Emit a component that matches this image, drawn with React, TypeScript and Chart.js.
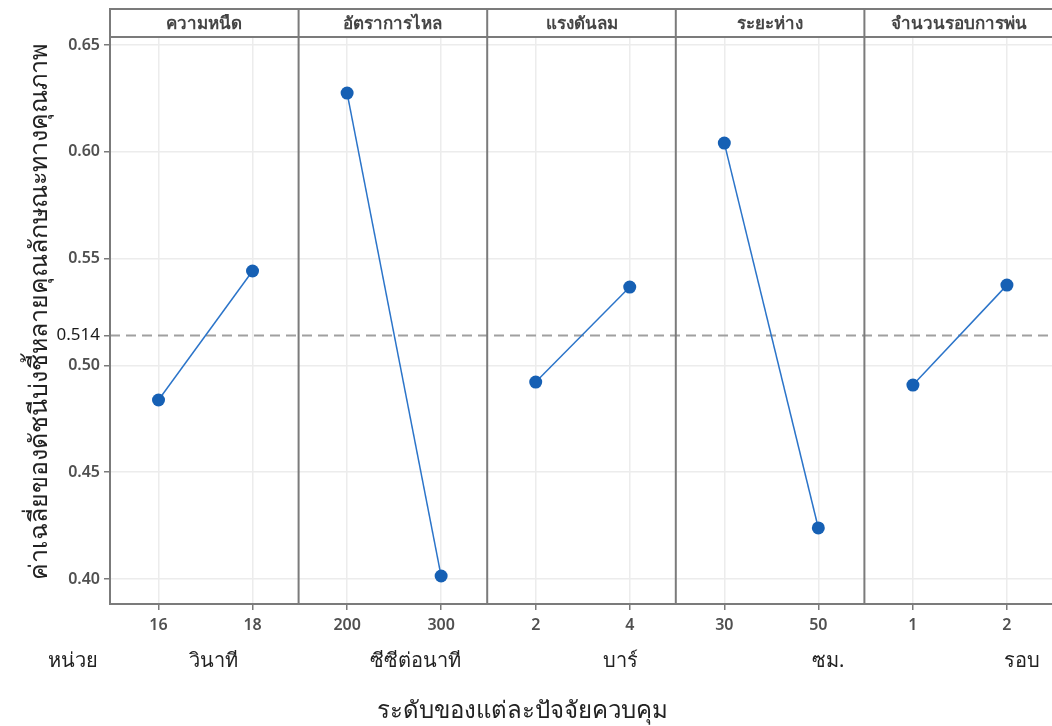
import React, { useEffect, useRef } from 'react';
import { Chart, registerables } from 'chart.js';
Chart.register(...registerables);

// ---- data ----
const factors = ['ความหนืด', 'อัตราการไหล', 'แรงดันลม', 'ระยะห่าง', 'จำนวนรอบการพ่น'];
const levelLabels = [['16', '18'], ['200', '300'], ['2', '4'], ['30', '50'], ['1', '2']];
const units = ['วินาที', 'ซีซีต่อนาที', 'บาร์', 'ซม.', 'รอบ'];
const unitHeader = 'หน่วย';
const lowMeans = [0.4838, 0.6275, 0.4922, 0.6041, 0.4908];
const highMeans = [0.5442, 0.4014, 0.5367, 0.4239, 0.5376];
const grandMean = 0.514;
const yTickValues = [0.4, 0.45, 0.5, 0.55, 0.6, 0.65];
const yTitle = 'ค่าเฉลี่ยของดัชนีบ่งชี้หลายคุณลักษณะทางคุณภาพ';
const xTitle = 'ระดับของแต่ละปัจจัยควบคุม';

// ---- layout helpers (panel geometry in x-scale units) ----
const PANEL_SPAN = 2.006;
const PANEL_OFFSET = 0.516;
const FONT = '"Noto Sans", "Open Sans", sans-serif';
const FRAME = '#7b7b7b';

const levelPos = (panel: number, level: number) => panel * PANEL_SPAN + level;
const isMean = (c: any) => !!(c && c.tick && Math.abs(c.tick.value - grandMean) < 1e-9);

export default function App() {
  const ref = useRef<HTMLCanvasElement>(null);

  useEffect(() => {
    if (!ref.current) return;
    const n = factors.length;
    const datasets = factors.map((f, i) => ({
      label: f,
      data: [
        { x: levelPos(i, 0), y: lowMeans[i] },
        { x: levelPos(i, 1), y: highMeans[i] },
      ],
      borderColor: '#2b74c9',
      backgroundColor: '#1660b4',
      borderWidth: 1.5,
      pointRadius: 6.5,
      pointHoverRadius: 6.5,
      pointBorderWidth: 0,
      tension: 0,
    }));

    const xTickPos: number[] = [];
    const xTickLab: Record<string, string> = {};
    factors.forEach((_, i) => {
      [0, 1].forEach((j) => {
        const p = levelPos(i, j);
        xTickPos.push(p);
        xTickLab[p.toFixed(4)] = levelLabels[i][j];
      });
    });

    const decor = {
      id: 'decor',
      beforeDatasetsDraw(chart: any) {
        const { ctx, chartArea, scales } = chart;
        const ys = scales.y;
        ctx.save();
        const ym = ys.getPixelForValue(grandMean);
        ctx.strokeStyle = '#a0a0a0';
        ctx.lineWidth = 2;
        ctx.setLineDash([10, 6]);
        ctx.beginPath();
        ctx.moveTo(chartArea.left, ym);
        ctx.lineTo(chartArea.right, ym);
        ctx.stroke();
        ctx.setLineDash([]);
        ctx.restore();
      },
      afterDraw(chart: any) {
        const { ctx, chartArea, scales } = chart;
        const xs = scales.x;
        ctx.save();
        const top = 9;
        const stripBottom = chartArea.top - 1;
        ctx.strokeStyle = FRAME;
        ctx.lineWidth = 2;
        ctx.beginPath();
        ctx.moveTo(chartArea.left, top);
        ctx.lineTo(chartArea.right, top);
        ctx.moveTo(chartArea.left, stripBottom);
        ctx.lineTo(chartArea.right, stripBottom);
        ctx.stroke();
        for (let i = 0; i <= n; i++) {
          const px = xs.getPixelForValue(-PANEL_OFFSET + i * PANEL_SPAN);
          ctx.beginPath();
          ctx.moveTo(px, top - 1);
          ctx.lineTo(px, chartArea.bottom);
          ctx.stroke();
        }
        ctx.fillStyle = '#454545';
        ctx.font = `bold 17px ${FONT}`;
        ctx.textAlign = 'center';
        ctx.textBaseline = 'middle';
        for (let i = 0; i < n; i++) {
          const l = xs.getPixelForValue(-PANEL_OFFSET + i * PANEL_SPAN);
          const r = xs.getPixelForValue(-PANEL_OFFSET + (i + 1) * PANEL_SPAN);
          ctx.fillText(factors[i], (l + r) / 2, (top + stripBottom) / 2 + 1);
        }
        ctx.fillStyle = '#222';
        ctx.font = `20px ${FONT}`;
        ctx.fillText(unitHeader, 73, 661);
        const unitShift = [9, 23, 39, 58, 63];
        for (let i = 0; i < n; i++) {
          const l = xs.getPixelForValue(-PANEL_OFFSET + i * PANEL_SPAN);
          const r = xs.getPixelForValue(-PANEL_OFFSET + (i + 1) * PANEL_SPAN);
          ctx.fillText(units[i], (l + r) / 2 + unitShift[i], 661);
        }
        ctx.font = `24px ${FONT}`;
        ctx.fillText(xTitle, 522, 711);
        ctx.translate(40, 312);
        ctx.rotate(-Math.PI / 2);
        ctx.font = `25px ${FONT}`;
        ctx.fillText(yTitle, 0, 0);
        ctx.restore();
      },
    };

    const chart = new Chart(ref.current, {
      type: 'line',
      data: { datasets },
      options: {
        animation: false,
        responsive: false,
        maintainAspectRatio: false,
        layout: { autoPadding: false, padding: { top: 38, left: 0, right: 1, bottom: 0 } },
        plugins: { legend: { display: false }, tooltip: { enabled: false } },
        scales: {
          x: {
            type: 'linear',
            min: -PANEL_OFFSET,
            max: -PANEL_OFFSET + factors.length * PANEL_SPAN,
            afterFit: (s: any) => { s.height = 122; },
            afterBuildTicks: (s: any) => { s.ticks = xTickPos.map((v) => ({ value: v })); },
            ticks: {
              callback: (v: any) => xTickLab[Number(v).toFixed(4)] ?? '',
              color: '#505050',
              font: { family: FONT, size: 16, weight: '600' },
              padding: 6,
              maxRotation: 0,
              autoSkip: false,
            },
            grid: { color: '#ececec', lineWidth: 1.5, tickColor: FRAME, tickLength: 6, tickWidth: 1.5 },
            border: { color: FRAME, width: 2 },
          },
          y: {
            min: 0.3883,
            max: 0.6533,
            afterFit: (s: any) => { s.width = 110; },
            afterBuildTicks: (s: any) => {
              s.ticks = [...yTickValues, grandMean].sort((a, b) => a - b).map((v) => ({ value: v }));
            },
            ticks: {
              callback: (v: any) => (Math.abs(v - grandMean) < 1e-9 ? String(grandMean) : Number(v).toFixed(2)),
              color: (c: any) => (isMean(c) ? '#1a1a1a' : '#505050'),
              font: (c: any) =>
                isMean(c)
                  ? { family: FONT, size: 17, weight: 'normal' }
                  : { family: FONT, size: 16, weight: '600' },
              padding: 4,
            },
            grid: {
              color: (c: any) => (isMean(c) ? 'rgba(0,0,0,0)' : '#ececec'),
              lineWidth: 1.5,
              tickColor: FRAME,
              tickLength: 6,
              tickWidth: 1.5,
            },
            border: { color: FRAME, width: 2 },
          },
        },
      },
      plugins: [decor],
    });
    return () => chart.destroy();
  }, []);

  return (
    <div style={{ position: 'absolute', left: 0, top: 0, width: 1052, height: 726, overflow: 'hidden', background: '#fff' }}>
      <canvas ref={ref} width={1054} height={726} style={{ display: 'block' }} />
    </div>
  );
}
